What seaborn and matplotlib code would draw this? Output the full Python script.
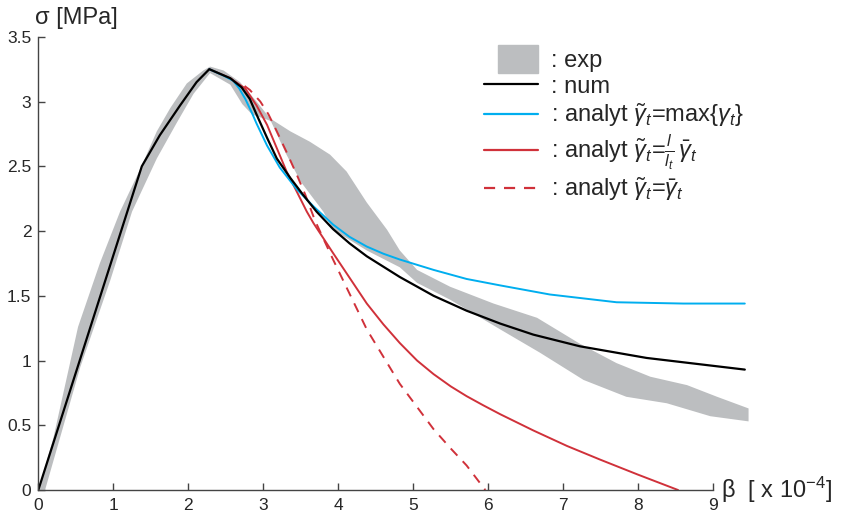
import seaborn as sns
import matplotlib.pyplot as plt
from matplotlib.patches import Patch, Rectangle
from matplotlib.lines import Line2D
from matplotlib.legend_handler import HandlerPatch

# experimental band (upper / lower edge)
exp_up_x = [0.0, 0.2, 0.53, 0.82, 1.09, 1.36, 1.58, 1.76, 1.98, 2.2, 2.29, 2.47, 2.69, 2.91, 3.09, 3.36,
            3.62, 3.89, 4.11, 4.38, 4.65, 4.82, 5.05, 5.49, 6.07, 6.65, 7.22, 7.71, 8.16, 8.65, 9.05, 9.47]
exp_up_y = [0.0, 0.40, 1.26, 1.75, 2.15, 2.48, 2.77, 2.95, 3.14, 3.24, 3.27, 3.24, 3.15, 3.00, 2.87, 2.77,
            2.69, 2.59, 2.46, 2.22, 2.01, 1.85, 1.70, 1.57, 1.44, 1.33, 1.13, 0.98, 0.875, 0.81, 0.72, 0.63]
exp_lo_x = [0.09, 0.56, 0.96, 1.25, 1.58, 1.85, 2.07, 2.29, 2.56, 2.72, 2.85, 3.1, 3.3, 3.5, 3.8, 3.93,
            4.38, 4.82, 5.05, 5.49, 6.16, 6.69, 7.27, 7.84, 8.38, 8.96, 9.47]
exp_lo_y = [0.0, 0.95, 1.62, 2.15, 2.56, 2.84, 3.06, 3.22, 3.13, 2.98, 2.90, 2.85, 2.60, 2.38, 2.15, 2.01,
            1.85, 1.72, 1.60, 1.47, 1.24, 1.06, 0.85, 0.72, 0.67, 0.57, 0.53]

# numerical model
num_x = [0, 1.38, 1.62, 1.89, 2.11, 2.28, 2.56, 2.71, 2.82, 2.91, 3.05, 3.18, 3.36, 3.53, 3.71, 3.93,
         4.15, 4.38, 4.82, 5.27, 5.71, 6.16, 6.6, 7.22, 8.11, 9.42]
num_y = [0, 2.5, 2.74, 2.97, 3.15, 3.25, 3.18, 3.11, 3.02, 2.90, 2.72, 2.56, 2.41, 2.28, 2.15, 2.015,
         1.905, 1.805, 1.645, 1.50, 1.385, 1.285, 1.20, 1.11, 1.02, 0.93]

# analytical: max{gamma_t}
max_x = [2.28, 2.47, 2.6, 2.68, 2.76, 2.85, 2.91, 3.05, 3.22, 3.45, 3.67, 3.93, 4.15, 4.38, 4.6, 4.82,
         5.27, 5.71, 6.16, 6.82, 7.71, 8.6, 9.42]
max_y = [3.25, 3.20, 3.16, 3.10, 3.02, 2.91, 2.83, 2.66, 2.49, 2.32, 2.19, 2.05, 1.955, 1.88, 1.825, 1.78,
         1.70, 1.63, 1.58, 1.51, 1.45, 1.44, 1.44]

# analytical: l/l_t * gamma_bar
ratio_x = [2.28, 2.56, 2.76, 2.91, 3.05, 3.18, 3.31, 3.45, 3.58, 3.67, 3.93, 4.38, 4.6, 4.82, 5.05,
           5.27, 5.5, 5.71, 5.93, 6.16, 6.6, 7.05, 7.49, 7.99, 8.53]
ratio_y = [3.25, 3.18, 3.10, 2.97, 2.82, 2.64, 2.46, 2.30, 2.15, 2.06, 1.83, 1.44, 1.28, 1.135, 1.00,
           0.895, 0.80, 0.725, 0.655, 0.585, 0.46, 0.34, 0.235, 0.12, 0.0]

# analytical: gamma_bar
bar_x = [2.75, 2.82, 2.96, 3.07, 3.18, 3.31, 3.45, 3.56, 3.69, 3.93, 4.38, 4.82, 5.27, 5.5, 5.71, 5.96]
bar_y = [3.12, 3.09, 3.00, 2.90, 2.77, 2.61, 2.43, 2.28, 2.08, 1.78, 1.24, 0.82, 0.47, 0.32, 0.19, 0.0]

x_ticks = [0, 1, 2, 3, 4, 5, 6, 7, 8, 9]
y_ticks = [0, 0.5, 1, 1.5, 2, 2.5, 3, 3.5]
y_tick_labels = ['0', '0.5', '1', '1.5', '2', '2.5', '3', '3.5']

legend_labels = [': exp', ': num',
                 r': analyt $\tilde{\gamma}_t$=max{$\gamma_t$}',
                 r': analyt $\tilde{\gamma}_t$=$\frac{l}{l_t}\,\bar{\gamma}_t$',
                 r': analyt $\tilde{\gamma}_t$=$\bar{\gamma}_t$']

GRAY = '#bcbec0'
CYAN = '#00aeef'
RED = '#d0313a'
FS = 17

sns.set_style("ticks")
plt.rcParams['font.family'] = ['Liberation Sans', 'DejaVu Sans']
plt.rcParams['mathtext.fontset'] = 'custom'
plt.rcParams['mathtext.rm'] = 'Liberation Sans'
plt.rcParams['mathtext.it'] = 'Liberation Sans:italic'

fig = plt.figure(figsize=(8.42, 5.17), dpi=100)
ax = fig.add_axes([0.0455, 0.0522, 0.8462, 0.8766])

ax.fill(exp_up_x + exp_lo_x[::-1], exp_up_y + exp_lo_y[::-1], color=GRAY, lw=0)

sns.lineplot(x=bar_x, y=bar_y, ax=ax, color=RED, lw=1.4, linestyle=(0, (5, 4)),
             sort=False, estimator=None)
sns.lineplot(x=ratio_x, y=ratio_y, ax=ax, color=RED, lw=1.4, sort=False, estimator=None)
sns.lineplot(x=max_x, y=max_y, ax=ax, color=CYAN, lw=1.4, sort=False, estimator=None)
sns.lineplot(x=num_x, y=num_y, ax=ax, color='black', lw=1.6, sort=False, estimator=None)

ax.set_xlim(0, 9.5)
ax.set_ylim(0, 3.5)
ax.set_xticks(x_ticks)
ax.set_yticks(y_ticks)
ax.set_yticklabels(y_tick_labels)
ax.tick_params(direction='in', length=5, width=1, color='#444444', labelsize=12.5)
ax.tick_params(axis='x', pad=6)
ax.tick_params(axis='y', pad=5)
ax.spines['bottom'].set_bounds(0, 9)
for s in ['left', 'bottom']:
    ax.spines[s].set_color('#444444')
    ax.spines[s].set_linewidth(1)
sns.despine(ax=ax)

fig.text(35 / 842, 1 - 18 / 517, 'σ [MPa]', fontsize=FS, va='center', ha='left')
ax.text(9.1, 0.0, r'β  [ x 10$^{-4}$]', fontsize=FS, va='center', ha='left', clip_on=False)


def small_rect(legend, orig_handle, xdescent, ydescent, width, height, fontsize):
    return Rectangle((xdescent + width * 0.25, -ydescent - height * 0.35), width * 0.75, height * 1.7)


handles = [Patch(color=GRAY),
           Line2D([], [], color='black', lw=1.6),
           Line2D([], [], color=CYAN, lw=1.6),
           Line2D([], [], color=RED, lw=1.6),
           Line2D([], [], color=RED, lw=1.6, linestyle=(0, (5, 4)))]
ax.legend(handles, legend_labels, loc='upper left', bbox_to_anchor=(484 / 842, 1 - 50 / 517),
          bbox_transform=fig.transFigure, frameon=False, fontsize=FS, handlelength=2.3,
          handletextpad=0.55, labelspacing=0.15, borderaxespad=0, borderpad=0,
          handler_map={Patch: HandlerPatch(patch_func=small_rect)})

fig.savefig('out.png', dpi=100)
